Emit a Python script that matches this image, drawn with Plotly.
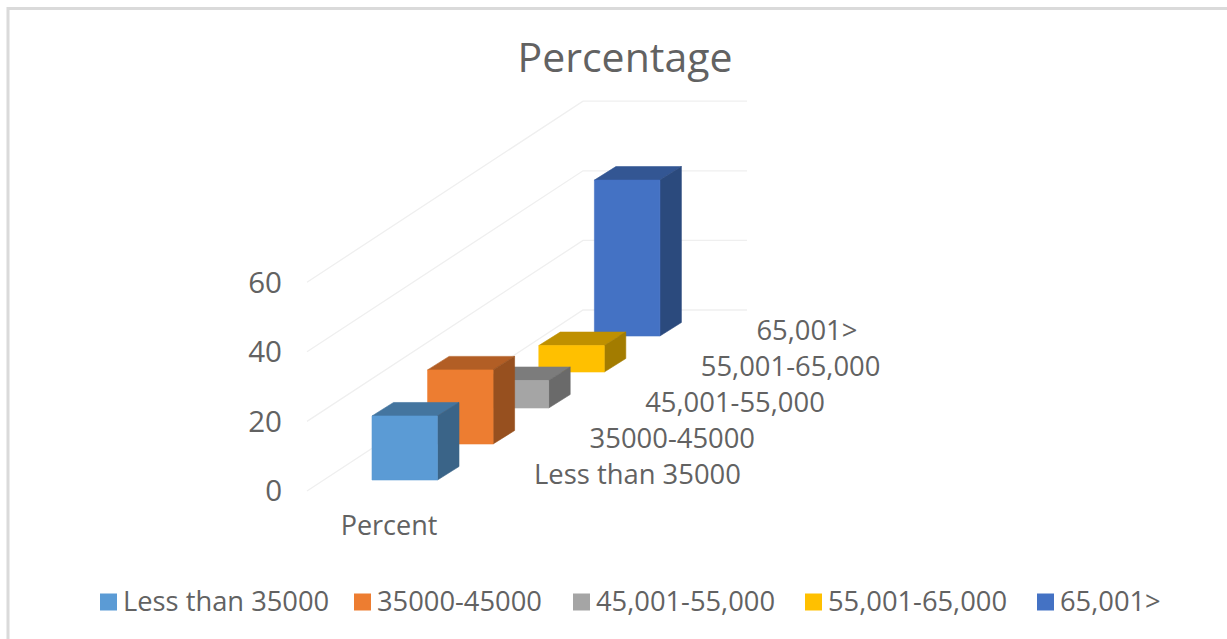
import plotly.graph_objects as go

# --- data ---
categories = ["Less than 35000", "35000-45000", "45,001-55,000", "55,001-65,000", "65,001>"]
percent = [18.4, 21.3, 7.9, 7.6, 44.8]
y_ticks = [0, 20, 40, 60]
series_label = "Percent"
title_text = "Percentage"

front_colors = ["#5B9BD5", "#ED7D31", "#A5A5A5", "#FFC000", "#4472C4"]
top_colors = ["#44759F", "#B25E25", "#7C7C7C", "#BF9000", "#335693"]
side_colors = ["#3A6488", "#97501F", "#6A6A6A", "#A37C00", "#2B4A7D"]
legend_x = [100, 354, 573, 805, 1037]

TEXT = "#626262"
FONT = "Open Sans, Noto Sans, sans-serif"

# --- oblique projection: x axis in page pixels, y axis in value units ---
W, H = 1227, 639
PX_PER_UNIT = 3.48
Y0_PX = 491
STEP_X = 55.6
STEP_Y = 36 / PX_PER_UNIT
BAR_X0 = 372
BAR_W = 65.5
BASE0 = 11 / PX_PER_UNIT
DEPTH_X = 21.5
DEPTH_Y = 13.5 / PX_PER_UNIT
WALL_X0, WALL_X1, WALL_X2 = 307, 583, 747
WALL_RISE = 181 / PX_PER_UNIT
LEGEND_Y = (Y0_PX - 602) / PX_PER_UNIT
LEGEND_TEXT_Y = (Y0_PX - 604.5) / PX_PER_UNIT

fig = go.Figure()

# wall gridlines
gx, gy = [], []
for t in y_ticks:
    gx += [WALL_X0, WALL_X1, WALL_X2, None]
    gy += [t, t + WALL_RISE, t + WALL_RISE, None]
fig.add_trace(go.Scatter(x=gx, y=gy, mode="lines", showlegend=False, hoverinfo="skip",
                         line=dict(color="#EFEFEF", width=1.3)))


def face(xs, ys, color, name):
    fig.add_trace(go.Scatter(x=xs, y=ys, mode="lines", fill="toself", fillcolor=color,
                             line=dict(color=color, width=0.6), name=name,
                             showlegend=False, hoverinfo="skip"))


# bars, back to front
for i in reversed(range(len(percent))):
    x0 = BAR_X0 + STEP_X * i
    x1 = x0 + BAR_W
    b = BASE0 + STEP_Y * i
    t = b + percent[i]
    face([x0, x1, x1 + DEPTH_X, x0 + DEPTH_X, x0],
         [t, t, t + DEPTH_Y, t + DEPTH_Y, t], top_colors[i], categories[i])
    face([x1, x1 + DEPTH_X, x1 + DEPTH_X, x1, x1],
         [b, b + DEPTH_Y, t + DEPTH_Y, t, b], side_colors[i], categories[i])
    face([x0, x1, x1, x0, x0], [b, b, t, t, b], front_colors[i], categories[i])

# depth-axis category labels
fig.add_trace(go.Scatter(
    x=[534 + STEP_X * i for i in range(len(categories))],
    y=[(Y0_PX - 477) / PX_PER_UNIT + STEP_Y * i for i in range(len(categories))],
    mode="text", text=categories, textposition="middle right",
    textfont=dict(family=FONT, size=27.4, color=TEXT),
    showlegend=False, hoverinfo="skip"))

# series axis label
fig.add_trace(go.Scatter(
    x=[389], y=[(Y0_PX - 528) / PX_PER_UNIT], mode="text", text=[series_label],
    textposition="middle center", textfont=dict(family=FONT, size=27, color=TEXT),
    showlegend=False, hoverinfo="skip"))

# legend row
fig.add_trace(go.Scatter(
    x=[v + 8.5 for v in legend_x], y=[LEGEND_Y] * len(legend_x), mode="markers",
    marker=dict(symbol="square", size=17, color=front_colors, line=dict(width=0)),
    showlegend=False, hoverinfo="skip"))
fig.add_trace(go.Scatter(
    x=[v + 23 for v in legend_x], y=[LEGEND_TEXT_Y] * len(legend_x), mode="text",
    text=categories, textposition="middle right",
    textfont=dict(family=FONT, size=27.3, color=TEXT),
    showlegend=False, hoverinfo="skip"))

fig.update_layout(
    width=W, height=H, autosize=False,
    margin=dict(l=0, r=0, t=0, b=0),
    paper_bgcolor="white", plot_bgcolor="white",
    title=dict(text=title_text, x=625 / W, xanchor="center", y=1 - 58 / H, yanchor="middle",
               font=dict(family=FONT, size=41, color=TEXT)),
    xaxis=dict(range=[0, W], visible=False, domain=[0, 1]),
    yaxis=dict(range=[(Y0_PX - H) / PX_PER_UNIT, Y0_PX / PX_PER_UNIT],
               domain=[0, 1], anchor="free", position=282 / W,
               tickmode="array", tickvals=y_ticks, ticks="",
               showgrid=False, zeroline=False, showline=False,
               tickfont=dict(family=FONT, size=29.5, color=TEXT)),
    shapes=[dict(type="rect", xref="paper", yref="paper",
                 x0=8 / W, x1=1.1, y0=-0.1, y1=1 - 8.5 / H,
                 line=dict(color="#DADADA", width=3), fillcolor="rgba(0,0,0,0)")],
    showlegend=False,
)

fig.write_html("out.html", config=dict(displayModeBar=False),
               post_script="document.body.style.margin='0';document.documentElement.style.overflow='hidden';")
